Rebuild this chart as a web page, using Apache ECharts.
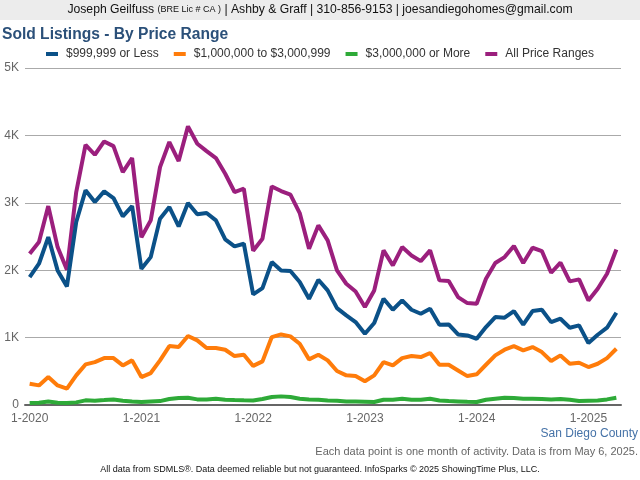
<!DOCTYPE html>
<html>
<head>
<meta charset="utf-8">
<script src="https://cdn.jsdelivr.net/npm/echarts@6/dist/echarts.min.js"></script>
<style>
html,body{margin:0;padding:0;background:#fff;}
#c{width:640px;height:480px;}
</style>
</head>
<body>
<div id="c"></div>
<script>
var months = [];
for (var y = 2020; y <= 2025; y++) {
  for (var m = 1; m <= 12; m++) {
    if (y === 2025 && m > 4) break;
    months.push(m + '-' + y);
  }
}
var seriesNames = ['$999,999 or Less', '$1,000,000 to $3,000,999', '$3,000,000 or More', 'All Price Ranges'];
var yTickLabels = ['0', '1K', '2K', '3K', '4K', '5K'];

var under1M = [1898,2096,2492,1997,1760,2715,3185,3011,3170,3071,2799,2952,
  2020,2194,2765,2937,2650,2997,2829,2848,2739,2457,2353,2393,
  1641,1735,2120,1997,1987,1824,1576,1858,1700,1438,1329,1230,
  1057,1216,1577,1413,1552,1413,1354,1428,1191,1196,1047,1032,
  983,1156,1305,1295,1394,1191,1394,1413,1230,1280,1147,1181,
  919,1042,1147,1369];
var mid = [316,291,414,291,242,439,602,637,696,696,587,662,
  414,474,662,874,860,1023,959,845,845,820,726,746,
  580,647,1008,1047,1018,909,677,746,662,504,440,430,
  353,439,637,588,696,726,711,771,597,597,513,429,
  455,597,736,820,874,810,860,785,652,736,612,627,
  563,612,696,835];
var over3M = [29,34,53,34,29,39,69,64,73,83,64,53,
  46,53,58,88,103,108,83,83,93,78,73,69,
  68,88,118,128,118,93,83,79,68,63,53,53,
  50,44,78,78,93,78,78,93,68,58,53,48,
  44,78,93,108,103,93,93,88,83,88,78,58,
  63,68,83,108];
var allRanges = [2243,2417,2951,2343,2007,3160,3861,3713,3910,3841,3456,3664,
  2490,2739,3530,3901,3619,4134,3876,3767,3664,3431,3160,3209,
  2290,2467,3243,3174,3120,2848,2319,2665,2442,1997,1799,1685,
  1453,1700,2294,2071,2343,2219,2135,2294,1849,1839,1601,1512,
  1503,1874,2106,2195,2358,2106,2333,2284,1962,2111,1834,1864,
  1552,1725,1947,2308];

var colors = ['#0b5188', '#ff7c0a', '#2eaa38', '#9b1f7d'];
var FONT = 'Liberation Sans, Arial, sans-serif';
var chart = echarts.init(document.getElementById('c'), null, {renderer: 'canvas'});
function mk(name, data, color, z) {
  return {
    name: name, type: 'line', data: data, symbol: 'none', smooth: false, z: z,
    lineStyle: {width: 4, color: color}, itemStyle: {color: color}
  };
}
chart.setOption({
  animation: false,
  textStyle: {fontFamily: FONT},
  graphic: [
    {type: 'rect', left: 0, top: 0, shape: {width: 640, height: 20}, style: {fill: '#ececec'}, z: -1},
    {type: 'text', left: 'center', top: 4, style: {
      rich: {
        a: {fontSize: 12.2, fill: '#111', fontFamily: FONT},
        b: {fontSize: 9, fill: '#111', fontFamily: FONT}
      },
      text: '{a|Joseph Geilfuss }{b|(BRE Lic # CA )}{a| | Ashby & Graff | 310-856-9153 | joesandiegohomes@gmail.com}'
    }},
    {type: 'text', right: 2, top: 428, style: {text: 'San Diego County', fontSize: 12, fill: '#4572a7', fontFamily: FONT}},
    {type: 'text', right: 2, top: 446, style: {text: 'Each data point is one month of activity. Data is from May 6, 2025.', fontSize: 11, fill: '#666', fontFamily: FONT}},
    {type: 'text', left: 'center', top: 465, style: {text: 'All data from SDMLS®. Data deemed reliable but not guaranteed. InfoSparks © 2025 ShowingTime Plus, LLC.', fontSize: 9, fill: '#111', fontFamily: FONT}}
  ],
  title: {
    text: 'Sold Listings - By Price Range', left: 2, top: 27, padding: 0,
    textStyle: {fontSize: 15.6, fontWeight: 'bold', color: '#2b5079', fontFamily: FONT}
  },
  legend: {
    top: 43, left: 'center', icon: 'rect', itemWidth: 12, itemHeight: 4, itemGap: 15,
    textStyle: {fontSize: 12, color: '#333', padding: [0, 0, 0, 3]},
    data: seriesNames
  },
  grid: {left: 25, right: 19, top: 68, bottom: 75, containLabel: false},
  xAxis: {
    type: 'category', data: months, boundaryGap: true,
    axisLine: {lineStyle: {color: '#666', width: 2}},
    axisTick: {alignWithLabel: true, interval: 11, length: 5, lineStyle: {color: '#666', width: 2}},
    axisLabel: {interval: 11, color: '#666', fontSize: 12, margin: 8},
    splitLine: {show: false}
  },
  yAxis: {
    type: 'value', min: 0, max: 5000, interval: 1000,
    axisLine: {show: false}, axisTick: {show: false},
    axisLabel: {color: '#666', fontSize: 12, margin: 6, formatter: function (v) { return yTickLabels[Math.round(v / 1000)]; }},
    splitLine: {lineStyle: {color: '#aaa', width: 1}}
  },
  series: [
    mk(seriesNames[0], under1M, colors[0], 3),
    mk(seriesNames[1], mid, colors[1], 3),
    mk(seriesNames[2], over3M, colors[2], 3),
    mk(seriesNames[3], allRanges, colors[3], 2)
  ]
});
</script>
</body>
</html>
